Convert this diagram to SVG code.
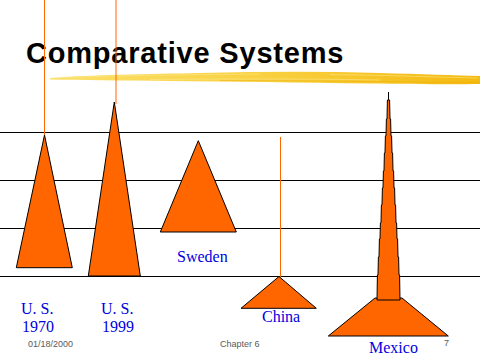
<svg xmlns="http://www.w3.org/2000/svg" width="480" height="360" viewBox="0 0 480 360">
<style>
.tri{fill:#FF6600;stroke:#000;stroke-width:1}
.grid{stroke:#000;stroke-width:1}
.pole{stroke:#FF6600;stroke-width:1}
.lbl{font-family:"Liberation Serif","Times New Roman",serif;font-size:16px;fill:#0000E0}
.foot{font-family:"Liberation Sans",Arial,sans-serif;font-size:9px;fill:#5A5A5A}
.title{font-family:"Liberation Sans",Arial,sans-serif;font-size:29px;font-weight:bold;letter-spacing:0.8px;fill:#000}
</style>
<defs>
<linearGradient id="brush" x1="0" y1="0" x2="1" y2="0">
<stop offset="0" stop-color="#FBE06A"/>
<stop offset="0.5" stop-color="#F9D040"/>
<stop offset="1" stop-color="#F4BA10"/>
</linearGradient>
</defs>
<rect width="480" height="360" fill="#fff"/>
<g id="title">
<path d="M50,78 C90,75 150,74 200,73 C260,71.5 320,71 380,73 C420,74 455,75.5 480,76 L480,84 C450,84.5 410,84 370,83.5 C300,82.5 230,81.5 170,81 C120,80.5 80,80 50,79.5 Z" fill="url(#brush)"/>
<path d="M60,77.5 C120,75.5 200,74.5 260,74 M150,79.5 C220,79 300,78.5 380,80 M330,74.5 C380,75 430,77 478,78" stroke="#FDE890" stroke-width="0.8" fill="none" opacity="0.7"/>
<path d="M220,80.5 C300,80.5 380,82 478,82.5" stroke="#E8A800" stroke-width="0.8" fill="none" opacity="0.5"/>
<text class="title" x="26" y="63">Comparative Systems</text>
</g>
<g id="connectors">
<line class="grid" x1="0" y1="132.5" x2="480" y2="132.5"/>
<line class="grid" x1="0" y1="180.5" x2="480" y2="180.5"/>
<line class="grid" x1="0" y1="228.5" x2="480" y2="228.5"/>
<line class="grid" x1="0" y1="276.5" x2="480" y2="276.5"/>
<line class="pole" x1="44.5" y1="0" x2="44.5" y2="136"/>
<line class="pole" x1="116" y1="0" x2="116" y2="104"/>
<line class="pole" x1="280.5" y1="137" x2="280.5" y2="277"/>
</g>
<g id="us1970">
<polygon class="tri" points="44.5,135 72.3,267.7 16.3,267.7"/>
<text class="lbl" x="21" y="314">U. S.</text>
<text class="lbl" x="22" y="332">1970</text>
</g>
<g id="us1999">
<polygon class="tri" points="114.3,102 140.3,276 88.3,276"/>
<text class="lbl" x="101" y="314">U. S.</text>
<text class="lbl" x="102" y="332">1999</text>
</g>
<g id="sweden">
<polygon class="tri" points="198.3,140.7 236.3,232 160.3,232"/>
<text class="lbl" x="177" y="262">Sweden</text>
</g>
<g id="china">
<polygon class="tri" points="279,276.5 316.3,308.3 241,308.3"/>
<text class="lbl" x="262" y="322">China</text>
</g>
<g id="mexico">
<polygon class="tri" points="328.3,336 448.3,336 402,298 375,298"/>
<line x1="388.5" y1="92" x2="388.5" y2="100" stroke="#000" stroke-width="1"/>
<polygon class="tri" points="377,300 377.4,275 378,275 378.4,257 379,257 379.4,239 380,239 380.4,223 381,223 381.4,205 382,205 382.4,188 383,188 383.4,171 384,171 384.4,153 385,153 385.4,136 386,136 386.4,119 387,119 387.4,100 389.6,100 390,119 390.6,119 391,136 391.6,136 392,153 392.6,153 393,171 393.6,171 394,188 394.6,188 395,205 395.6,205 396,223 396.6,223 397,239 397.6,239 398,257 398.6,257 399,275 399.6,275 400,300"/>
<text class="lbl" x="369" y="353">Mexico</text>
</g>
<g id="footer">
<text class="foot" x="28" y="347">01/18/2000</text>
<text class="foot" x="220" y="347">Chapter 6</text>
<text class="foot" x="444" y="346">7</text>
</g>
</svg>
